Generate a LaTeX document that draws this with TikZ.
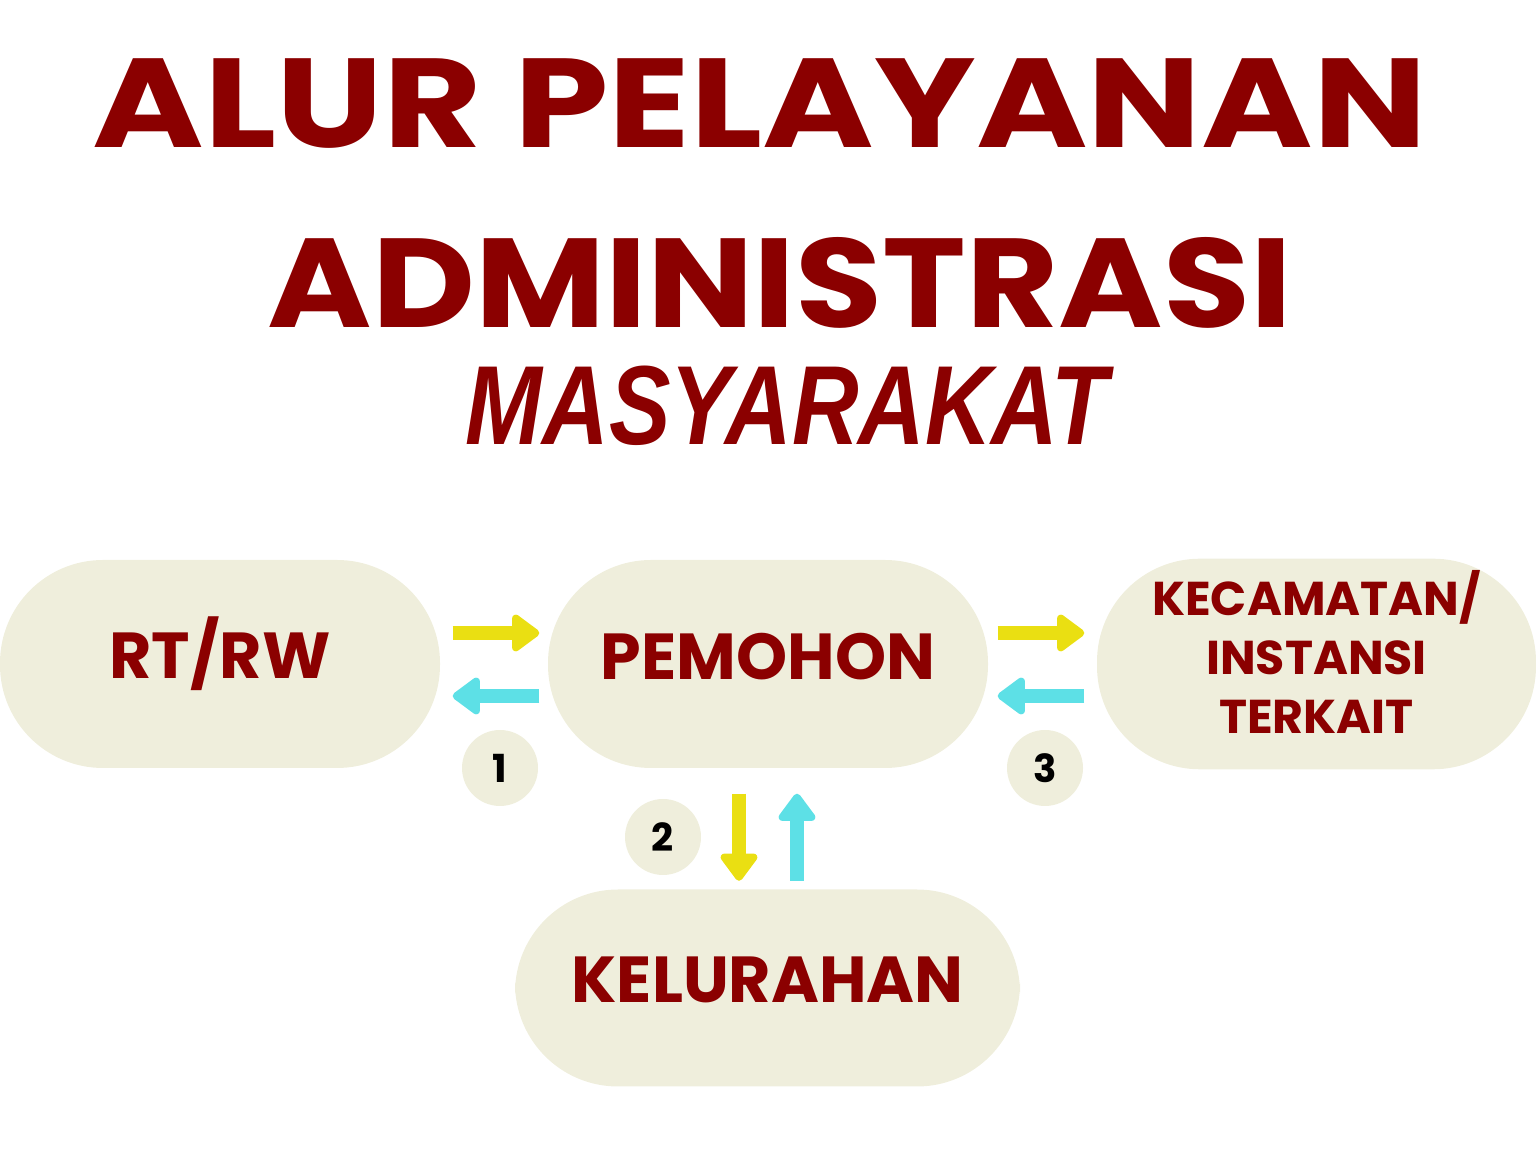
\documentclass[tikz,border=0pt]{standalone}
\usepackage{fontspec}
\setmainfont{Poppins}
\newfontfamily\tulisan{Liberation Sans}
\usetikzlibrary{arrows.meta}
\definecolor{merah}{HTML}{8B0000}
\definecolor{krem}{HTML}{EFEEDC}
\definecolor{kuning}{HTML}{EADF12}
\definecolor{biru}{HTML}{5DE0E6}
\begin{document}
\begin{tikzpicture}[
        kotak/.style={fill=krem, rounded corners=1.03cm, minimum height=2.08cm, text depth=0.16cm,
            text=merah, font=\bfseries\fontsize{18.5}{22}\selectfont, align=center},
        nomor/.style={circle, fill=krem, minimum size=0.76cm, inner sep=0pt,
            font=\bfseries\fontsize{11}{11}\selectfont},
        judul/.style={text=merah, anchor=base, inner sep=0pt, font=\bfseries\fontsize{36}{36}\selectfont},
        panah/.style={line width=0.14cm, -{Triangle[width=0.42cm, length=0.30cm, round]}},
        maju/.style={panah, draw=kuning},
        balik/.style={panah, draw=biru}
    ]
                \useasboundingbox (0, 0) rectangle (15.36, 11.52);

                % judul
                \node[judul, xscale=1.197] (judul1) at (7.6, 10.04) {ALUR PELAYANAN};
                \node[judul, xscale=1.12] (judul2) at (7.8, 8.24) {ADMINISTRASI};
                \node[text=merah, anchor=base, inner sep=0pt, xscale=0.82, font=\tulisan\bfseries\itshape\fontsize{32}{32}\selectfont] (judul3) at (7.87, 7.07) {MASYARAKAT};

                % kotak
                \node[kotak, minimum width=4.4cm, text depth=0.32cm] (rtrw) at (2.2, 4.88) {RT/RW};
                \node[kotak, minimum width=4.4cm] (pemohon) at (7.68, 4.88) {PEMOHON};
                \node[kotak, minimum width=4.39cm, text depth=0.24cm, font=\bfseries\fontsize{13.5}{16.8}\selectfont] (kecamatan) at (13.165, 4.88) {KECAMATAN/\\INSTANSI\\TERKAIT};
                \node[kotak, minimum width=5.05cm, minimum height=1.97cm] (kelurahan) at (7.675, 1.64) {KELURAHAN};

                \node[nomor] (n1) at (5.0, 3.84) {1};
                \node[nomor] (n2) at (6.63, 3.15) {2};
                \node[nomor] (n3) at (10.45, 3.84) {3};

                \draw[maju, shorten <=0.12cm, shorten >=0.08cm] ([yshift=3.1mm]rtrw.east) to ([yshift=3.1mm]pemohon.west);
                \draw[balik, shorten <=0.08cm, shorten >=0.12cm] ([yshift=-3.2mm]pemohon.west) to ([yshift=-3.2mm]rtrw.east);
                \draw[maju, shorten <=0.09cm, shorten >=0.12cm] ([yshift=3.1mm]pemohon.east) to ([yshift=3.1mm]kecamatan.west);
                \draw[balik, shorten <=0.12cm, shorten >=0.09cm] ([yshift=-3.2mm]kecamatan.west) to ([yshift=-3.2mm]pemohon.east);
                \draw[maju, shorten <=0.25cm, shorten >=0.08cm] ([xshift=-2.9mm]pemohon.south) to ([xshift=-2.9mm]pemohon.south |- kelurahan.north);
                \draw[balik, shorten <=0.08cm, shorten >=0.25cm] ([xshift=2.9mm]pemohon.south |- kelurahan.north) to ([xshift=2.9mm]pemohon.south);
            \end{tikzpicture}
\end{document}
